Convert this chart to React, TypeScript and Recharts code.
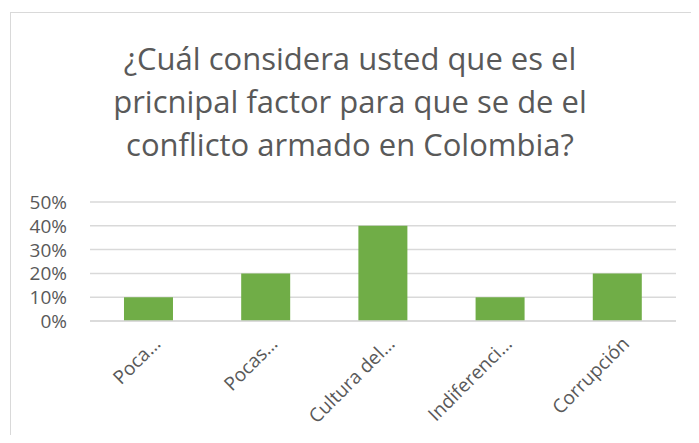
import React from 'react';
import { BarChart, Bar, XAxis, YAxis, CartesianGrid } from 'recharts';

const CATEGORIES = ['Poca…', 'Pocas…', 'Cultura del…', 'Indiferenci…', 'Corrupción'];
const VALUES = [0.1, 0.2, 0.4, 0.1, 0.2];
const Y_TICKS = [0, 0.1, 0.2, 0.3, 0.4, 0.5];
const TITLE_LINES = [
  '¿Cuál considera usted que es el',
  'pricnipal factor para que se de el',
  'conflicto armado en Colombia?',
];

const data = CATEGORIES.map((name, i) => ({ name, value: VALUES[i] }));

const FONT = '"Open Sans", sans-serif';
const TEXT = '#595959';

const XTick = (props: any) => {
  const { x, y, payload } = props;
  return (
    <g transform={`translate(${x + 13},${y + 16})`}>
      <text transform="rotate(-45)" textAnchor="end" fontSize={19} fill={TEXT} fontFamily={FONT}>
        {payload.value}
      </text>
    </g>
  );
};

const YTick = (props: any) => {
  const { x, y, payload } = props;
  return (
    <text x={x} y={y} dy={7} textAnchor="end" fontSize={19} fill={TEXT} fontFamily={FONT}>
      {`${Math.round(payload.value * 100)}%`}
    </text>
  );
};

const App: React.FC = () => {
  return (
    <div style={{ position: 'relative', width: 699, height: 443, margin: -8, background: '#fff', overflow: 'hidden' }}>
      <div style={{ position: 'absolute', left: 10, top: 12, width: 720, height: 460, border: '1px solid #d9d9d9' }} />
      <div style={{ position: 'absolute', left: 0, top: 37, width: 700, textAlign: 'center', fontFamily: FONT, fontSize: 31, lineHeight: '43px', color: TEXT }}>
        {TITLE_LINES.map((l) => (
          <div key={l}>{l}</div>
        ))}
      </div>
      <div style={{ position: 'absolute', left: 0, top: 0 }}>
        <BarChart width={699} height={443} data={data} margin={{ top: 202, right: 23, bottom: 22, left: 30 }} barCategoryGap="29%">
          <CartesianGrid vertical={false} stroke="#d9d9d9" strokeWidth={1.5} />
          <XAxis dataKey="name" axisLine={{ stroke: '#d9d9d9', strokeWidth: 1.5 }} tickLine={false} interval={0} height={100} tick={<XTick />} />
          <YAxis
            domain={[0, 0.5]}
            ticks={Y_TICKS}
            interval={0}
            width={60}
            axisLine={false}
            tickLine={false}
            tickSize={0}
            tickMargin={23}
            tick={<YTick />}
          />
          <Bar dataKey="value" fill="#70ad47" isAnimationActive={false} />
        </BarChart>
      </div>
    </div>
  );
};

export default App;
